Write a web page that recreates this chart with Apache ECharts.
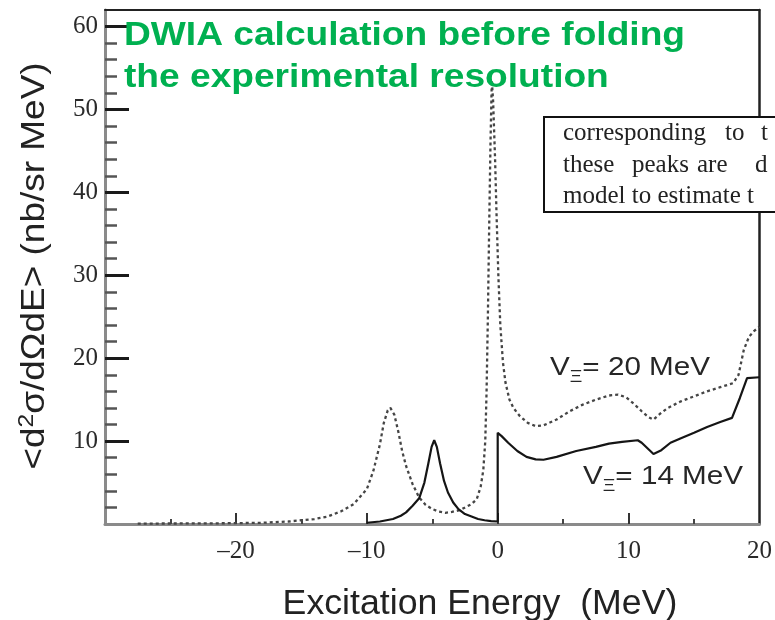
<!DOCTYPE html>
<html>
<head>
<meta charset="utf-8">
<script src="https://cdn.jsdelivr.net/npm/echarts@6/dist/echarts.min.js"></script>
<style>
  html, body { margin: 0; padding: 0; background: #ffffff; }
  #chart { width: 775px; height: 620px; }
</style>
</head>
<body>
<div id="chart"></div>
<script>
// DWIA excitation spectra, <d2σ/dΩdE> in nb/sr MeV versus excitation energy in MeV

// V_Ξ = 20 MeV (dotted curve)
const v20Energy = [-27.5, -25, -22, -20, -18, -16, -15, -14, -13, -12, -11, -10, -9.5, -9.0, -8.7, -8.4, -8.2, -7.9, -7.6, -7.3, -7.0, -6.5, -6.0, -5.5, -5.0, -4.5, -4.0, -3.5, -2.85, -2.0, -1.6, -1.3, -1.1, -0.95, -0.85, -0.75, -0.65, -0.55, -0.45, -0.35, -0.2, -0.1, 0.05, 0.2, 0.4, 0.6, 0.9, 1.2, 1.7, 2.3, 2.9, 3.5, 4.5, 5.5, 6.5, 7.5, 8.5, 9.2, 9.8, 10.4, 11.0, 11.5, 11.9, 12.4, 13.0, 13.5, 14.0, 15.0, 16.0, 17.0, 18.0, 18.4, 18.8, 19.2, 19.6, 20.0];
const v20Sigma  = [0.05, 0.06, 0.08, 0.1, 0.15, 0.3, 0.45, 0.6, 0.9, 1.5, 2.4, 4.2, 6.4, 9.6, 12.2, 13.7, 14.0, 13.2, 11.2, 8.8, 7.0, 4.8, 3.2, 2.3, 1.8, 1.5, 1.35, 1.45, 1.7, 2.4, 3.0, 4.5, 6.5, 10, 16, 25, 36, 46, 53.5, 51, 44, 38, 30, 24, 19.5, 17, 15, 14, 13, 12.2, 11.8, 11.9, 12.6, 13.6, 14.4, 15.0, 15.5, 15.6, 15.3, 14.5, 13.6, 12.9, 12.6, 13.3, 14.0, 14.4, 14.8, 15.4, 16.0, 16.5, 17.0, 18.0, 21.0, 22.6, 23.3, 23.8];

// V_Ξ = 14 MeV (solid curve)
const v14Energy = [-10, -9, -8, -7.4, -7.0, -6.5, -6.0, -5.6, -5.3, -5.05, -4.85, -4.65, -4.4, -4.1, -3.8, -3.4, -3.0, -2.5, -2.0, -1.5, -1.0, -0.5, 0.0, 0.0, 0.3, 0.8, 1.5, 2.2, 2.9, 3.5, 4.5, 6.0, 7.5, 8.5, 9.5, 10.7, 11.0, 11.9, 12.5, 13.2, 14.0, 15.0, 16.0, 17.0, 17.9, 18.5, 19.05, 20.0];
const v14Sigma  = [0.15, 0.3, 0.6, 1.0, 1.4, 2.2, 3.1, 5.0, 7.3, 9.3, 10.1, 9.3, 7.3, 5.2, 3.8, 2.6, 1.8, 1.2, 0.9, 0.6, 0.45, 0.35, 0.3, 11.0, 10.6, 9.8, 8.8, 8.1, 7.8, 7.75, 8.1, 8.8, 9.3, 9.7, 9.9, 10.1, 9.8, 8.45, 8.9, 9.8, 10.35, 11.0, 11.7, 12.3, 12.8, 15.2, 17.6, 17.7];

// Axis ticks and labels
const xLabelValues = [-20, -10, 0, 10, 20];
const xMajorTicks  = [-20, -10, 0, 10];
const xMinorTicks  = [-25, -15, -5, 5, 15];
const yLabelValues = [10, 20, 30, 40, 50, 60];
const yMajorTicks  = [10, 20, 30, 40, 50, 60];
const yMinorTicks  = [2, 4, 6, 8, 12, 14, 16, 18, 22, 24, 26, 28, 32, 34, 36, 38, 42, 44, 46, 48, 52, 54, 56, 58];

const pairs = (xs, ys) => xs.map((x, i) => [x, ys[i]]);

const chart = echarts.init(document.getElementById('chart'), null, { renderer: 'canvas' });

const serif = '"Liberation Serif", "Times New Roman", serif';
const sans = '"Liberation Sans", Arial, Helvetica, sans-serif';
const minusFmt = v => String(v).replace('-', '\u2013');

// one word of the pasted caption box
const boxWord = (text, x, y) => ({
  type: 'text', x: x, y: y, z: 11,
  style: { text: text, font: '25px ' + serif, fill: '#222', textVerticalAlign: 'bottom' }
});

const option = {
  animation: false,
  backgroundColor: '#ffffff',
  grid: { left: 105, right: 10, top: 10, bottom: 96, containLabel: false },
  xAxis: [
    {
      type: 'value', position: 'bottom', min: -30, max: 20, interval: 10,
      axisLine: { show: true, onZero: false, lineStyle: { color: '#8a8a8a', width: 3 } },
      axisTick: { show: true, inside: true, length: 11, customValues: xMajorTicks, lineStyle: { color: '#333', width: 2 } },
      axisLabel: { show: true, customValues: xLabelValues, formatter: minusFmt, margin: 15,
                   fontFamily: serif, fontSize: 25, color: '#2a2a2a' },
      splitLine: { show: false }
    },
    {
      type: 'value', position: 'bottom', min: -30, max: 20, interval: 5,
      axisLine: { show: false, onZero: false },
      axisTick: { show: true, inside: true, length: 5, customValues: xMinorTicks, lineStyle: { color: '#444', width: 2 } },
      axisLabel: { show: false },
      splitLine: { show: false }
    },
    {
      type: 'value', position: 'top', min: -30, max: 20,
      axisLine: { show: true, onZero: false, lineStyle: { color: '#222', width: 2 } },
      axisTick: { show: false }, axisLabel: { show: false }, splitLine: { show: false }
    }
  ],
  yAxis: [
    {
      type: 'value', position: 'left', min: 0, max: 62, interval: 10,
      axisLine: { show: true, onZero: false, lineStyle: { color: '#8a8a8a', width: 3 } },
      axisTick: { show: true, inside: true, length: 24, customValues: yMajorTicks, lineStyle: { color: '#1a1a1a', width: 3 } },
      axisLabel: { show: true, customValues: yLabelValues, margin: 7, padding: [0, 0, 10, 0],
                   fontFamily: serif, fontSize: 25, color: '#2a2a2a' },
      splitLine: { show: false }
    },
    {
      type: 'value', position: 'left', min: 0, max: 62, interval: 2,
      axisLine: { show: false, onZero: false },
      axisTick: { show: true, inside: true, length: 12, customValues: yMinorTicks, lineStyle: { color: '#555', width: 2.5 } },
      axisLabel: { show: false },
      splitLine: { show: false }
    },
    {
      type: 'value', position: 'right', min: 0, max: 62,
      axisLine: { show: true, onZero: false, lineStyle: { color: '#222', width: 2.5 } },
      axisTick: { show: false }, axisLabel: { show: false }, splitLine: { show: false }
    }
  ],
  series: [
    {
      name: 'V20', type: 'line', xAxisIndex: 0, yAxisIndex: 0,
      data: pairs(v20Energy, v20Sigma), showSymbol: false, smooth: false,
      lineStyle: { color: '#454545', width: 2.3, type: [3, 3] }, z: 3
    },
    {
      name: 'V14', type: 'line', xAxisIndex: 0, yAxisIndex: 0,
      data: pairs(v14Energy, v14Sigma), showSymbol: false, smooth: false,
      lineStyle: { color: '#151515', width: 2.2 }, z: 3
    }
  ],
  graphic: [
    // overlaid caption
    {
      type: 'text', x: 124, y: 15, scaleX: 1.125, z: 10,
      style: {
        text: 'DWIA calculation before folding\nthe experimental resolution',
        font: 'bold 33px ' + sans, fill: '#00B050', lineHeight: 42,
        textAlign: 'left', textVerticalAlign: 'top'
      }
    },
    // pasted text box
    {
      type: 'rect', z: 10,
      shape: { x: 544, y: 117, width: 260, height: 95 },
      style: { fill: '#ffffff', stroke: '#111111', lineWidth: 2 }
    },
    boxWord('corresponding', 563, 146),
    boxWord('to', 725, 146),
    boxWord('t', 761, 146),
    boxWord('these', 563, 178),
    boxWord('peaks', 632, 178),
    boxWord('are', 697, 178),
    boxWord('d', 755, 178),
    boxWord('model to estimate t', 563, 209),
    // curve labels
    {
      type: 'text', x: 550, y: 368, scaleX: 1.14, z: 10,
      style: {
        text: '{v|V}{s|Ξ}{v|= 20 MeV}', textVerticalAlign: 'middle',
        rich: {
          v: { fontFamily: sans, fontSize: 26, fill: '#262626' },
          s: { fontFamily: sans, fontSize: 17, fill: '#262626', padding: [18, 0, 0, 0] }
        }
      }
    },
    {
      type: 'text', x: 583, y: 477, scaleX: 1.14, z: 10,
      style: {
        text: '{v|V}{s|Ξ}{v|= 14 MeV}', textVerticalAlign: 'middle',
        rich: {
          v: { fontFamily: sans, fontSize: 26, fill: '#262626' },
          s: { fontFamily: sans, fontSize: 17, fill: '#262626', padding: [18, 0, 0, 0] }
        }
      }
    },
    // axis titles
    {
      type: 'text', x: 480, y: 604, scaleX: 1.02, z: 10,
      style: {
        text: 'Excitation Energy  (MeV)', font: '35px ' + sans, fill: '#222',
        textAlign: 'center', textVerticalAlign: 'middle'
      }
    },
    {
      type: 'text', x: 35, y: 266, rotation: Math.PI / 2, scaleX: 1.12, z: 10,
      style: {
        text: '{a|<d}{p|2}{a|σ/dΩdE> (nb/sr MeV)}',
        textAlign: 'center', textVerticalAlign: 'middle',
        rich: {
          a: { fontFamily: sans, fontSize: 33, fill: '#222' },
          p: { fontFamily: sans, fontSize: 22, fill: '#222', padding: [0, 0, 16, 0] }
        }
      }
    }
  ]
};

chart.setOption(option);
</script>
</body>
</html>
